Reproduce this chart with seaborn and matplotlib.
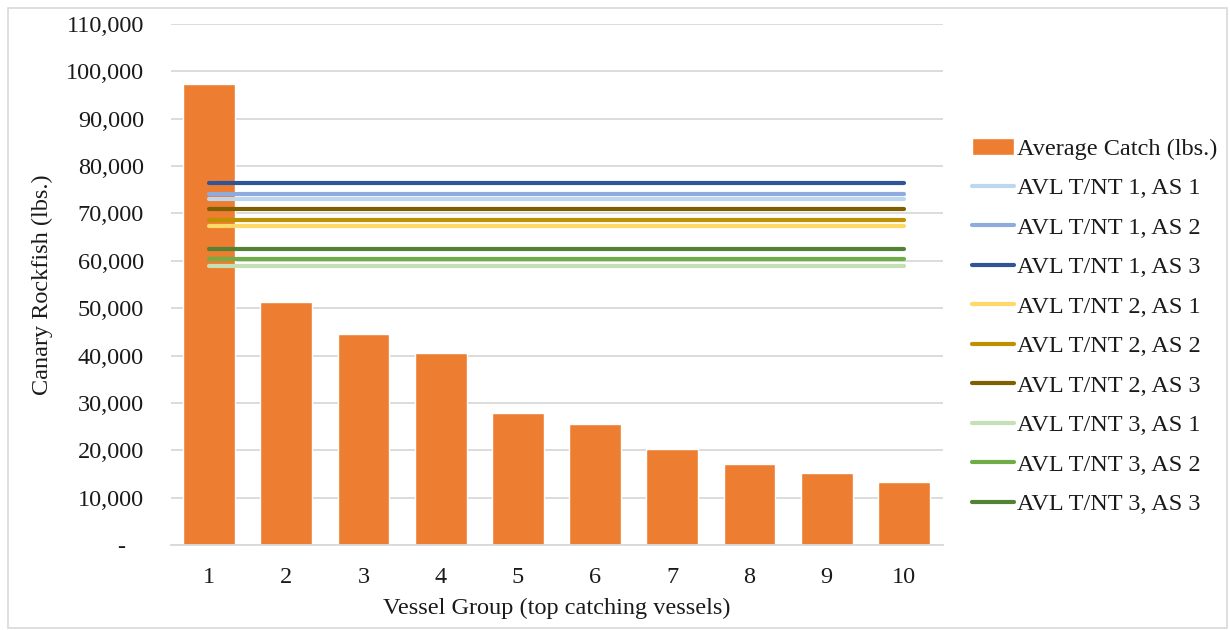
import matplotlib
matplotlib.use("Agg")
import matplotlib.pyplot as plt
from matplotlib.ticker import FuncFormatter
from matplotlib.patches import Rectangle
import seaborn as sns
import pandas as pd

# ---- data ----
vessel_groups = [1, 2, 3, 4, 5, 6, 7, 8, 9, 10]
average_catch = [97400, 51200, 44600, 40600, 27800, 25600, 20300, 17100, 15200, 13300]

avl_series = ["AVL T/NT 1, AS 1", "AVL T/NT 1, AS 2", "AVL T/NT 1, AS 3",
              "AVL T/NT 2, AS 1", "AVL T/NT 2, AS 2", "AVL T/NT 2, AS 3",
              "AVL T/NT 3, AS 1", "AVL T/NT 3, AS 2", "AVL T/NT 3, AS 3"]
avl_values = [73000, 74200, 76500,
              67400, 68600, 70900,
              59000, 60300, 62500]
avl_colors = ["#BDD7EE", "#8FAADC", "#2F5597",
              "#FFD966", "#BF9000", "#7F6000",
              "#C5E0B4", "#70AD47", "#548235"]
bar_color = "#ED7D31"
bar_label = "Average Catch (lbs.)"

y_ticks = [0, 10000, 20000, 30000, 40000, 50000, 60000, 70000, 80000, 90000, 100000, 110000]

# long table for the threshold lines
rows = []
for name, val in zip(avl_series, avl_values):
    for g in vessel_groups:
        rows.append({"group": g, "value": val, "series": name})
lines_df = pd.DataFrame(rows)

sns.set_theme(style="white")
plt.rcParams["font.family"] = ["Liberation Serif", "DejaVu Serif"]

FS = 17.5
TXT = "#1a1a1a"

fig = plt.figure(figsize=(12.3, 6.3), dpi=100)
ax = fig.add_axes([170.5 / 1230, 1 - 545 / 630, 772 / 1230, (545 - 24) / 630])

sns.barplot(x=vessel_groups, y=average_catch, native_scale=True, color=bar_color,
            saturation=1, width=0.67, label=bar_label, ax=ax, zorder=2)
sns.lineplot(data=lines_df, x="group", y="value", hue="series", hue_order=avl_series,
             palette=dict(zip(avl_series, avl_colors)), linewidth=3.0,
             solid_capstyle="round", ax=ax, zorder=3)

ax.set_xlim(0.5, 10.5)
ax.set_ylim(0, 110000)
ax.set_xticks(vessel_groups)
ax.set_xticklabels([str(g) for g in vessel_groups])
ax.set_yticks(y_ticks)
ax.yaxis.set_major_formatter(FuncFormatter(lambda v, p: "-   " if v == 0 else f"{v:,.0f}"))

ax.grid(axis="y", color="#D9D9D9", linewidth=1.3, zorder=0)
ax.set_axisbelow(True)
for s in ["top", "right", "left"]:
    ax.spines[s].set_visible(False)
ax.spines["bottom"].set_color("#D9D9D9")
ax.spines["bottom"].set_linewidth(1.3)
ax.tick_params(axis="both", length=0, labelsize=FS, colors=TXT)
ax.tick_params(axis="y", pad=19)
ax.tick_params(axis="x", pad=16)

ax.set_xlabel("Vessel Group (top catching vessels)", fontsize=FS, color=TXT, labelpad=7)
ax.set_ylabel("Canary Rockfish (lbs.)", fontsize=FS, color=TXT, labelpad=9)

handles, labels = ax.get_legend_handles_labels()
if ax.get_legend() is not None:
    ax.get_legend().remove()
order = [labels.index(bar_label)] + [labels.index(n) for n in avl_series]
leg = fig.legend([handles[i] for i in order], [labels[i] for i in order],
                 loc="center left", bbox_to_anchor=(0.790, 0.482), frameon=False,
                 fontsize=FS, handlelength=1.73, handletextpad=0.12, labelspacing=0.72,
                 borderpad=0, borderaxespad=0)
for t in leg.get_texts():
    t.set_color(TXT)

fig.add_artist(Rectangle((8 / 1230, 2 / 630), 1219 / 1230, 620 / 630, transform=fig.transFigure,
                         fill=False, edgecolor="#D9D9D9", linewidth=1.2))

fig.savefig("out.png", dpi=100)
